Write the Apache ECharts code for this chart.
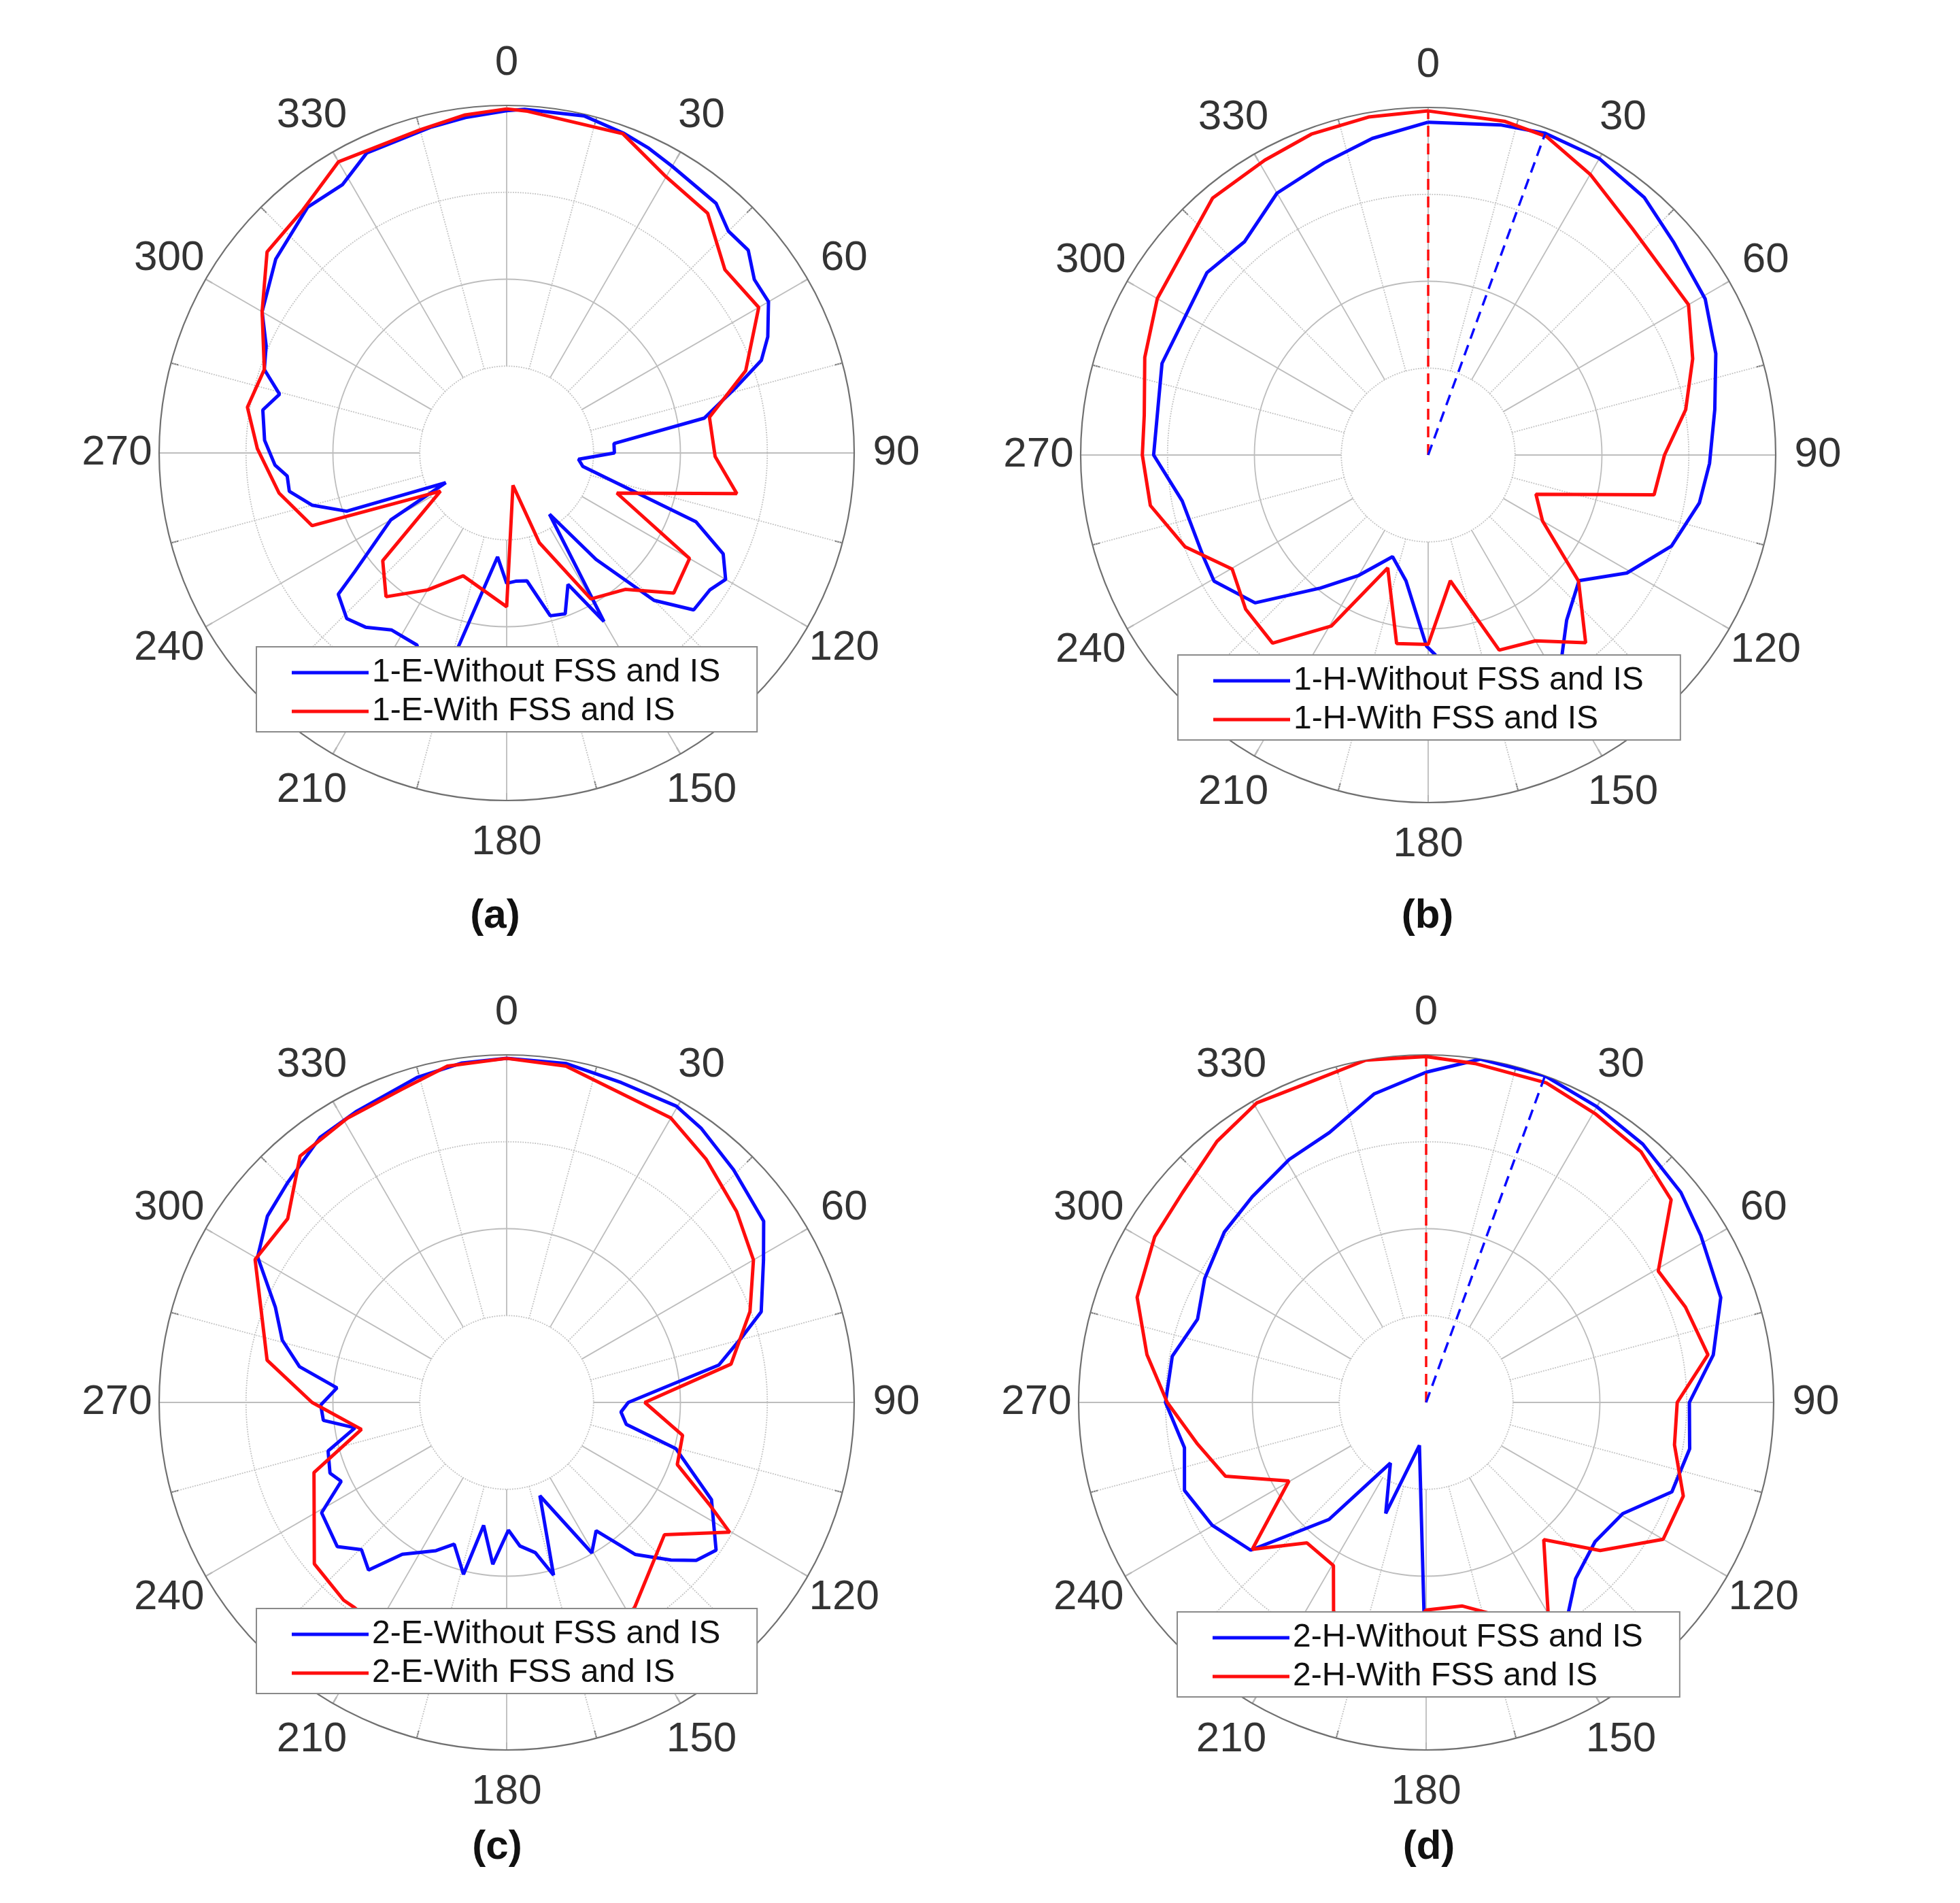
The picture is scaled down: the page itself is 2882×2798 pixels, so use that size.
<!DOCTYPE html>
<html>
<head>
<meta charset="utf-8">
<script src="https://cdn.jsdelivr.net/npm/echarts@6/dist/echarts.min.js"></script>
<style>
  html, body { margin: 0; padding: 0; background: #fff; }
  #main { width: 2882px; height: 2798px; }
</style>
</head>
<body>
<div id="main"></div>
<script>
// radiation patterns: angle in degrees, gain in dB (0 dB = outer circle, -40 dB = centre)

// (a) 1-E
var ang1EWithout = [0,3,13,20,25,30,40,45,50,55,60,66,70,74,80,85,90,95,100,110,115,120,124,130,135,140,145,150,155,160,165,171,176,180,185,194,199,205,213,219,224,230,232,240,244,250,255,260,264,267,273,280,284.5,289,294,300,310,321,328.5,335,347,353,360];
var db1EWithout = [-0.6,-0.4,-0.2,-0.8,-1.3,-1.9,-2.5,-3.9,-3.7,-5.2,-5.2,-7.1,-8.8,-12.5,-16.9,-27.6,-27.6,-31.7,-31.1,-16.8,-12.5,-10.9,-11.8,-11.9,-16,-24,-31.4,-17.6,-23.3,-20.3,-20.6,-25.1,-25.2,-25,-28,-17,-10,-15.6,-15.7,-14.2,-13.5,-14.7,-17.8,-24.6,-32.2,-20.4,-16.8,-14.6,-14.6,-13.3,-12.1,-11.5,-13,-10.5,-9.7,-7.5,-5.3,-3.6,-3.8,-1.9,-1.5,-1.1,-0.6];
var ang1EWith = [0,3.5,20,30,40,50,60,71,80,91,100,110,120,130,139,150,160,169,180,199.5,210,220,229,240,249.5,260,271,280,289,300,310,320,330,345,353,360];
var db1EWith = [-0.4,-0.6,-0.9,-3.3,-4,-7.2,-6.5,-10.9,-16.3,-16,-13.1,-26.5,-15.7,-14.9,-19.2,-20.6,-29,-36.2,-22.3,-25,-21.8,-18.4,-21.1,-31.2,-16.1,-13.4,-11.3,-9.7,-10.5,-7.5,-4,-3.5,-1.3,-1.5,-0.8,-0.4];

// (b) 1-H
var ang1HWithout = [0,12.5,20,30,40,49,60.6,70.6,81,91.7,100,110.5,120.7,129.8,140,146.4,155,168,178,180.5,190,199.3,210,219,229.5,239.5,245.7,259.4,270,289,309.5,319.3,330,340.4,350,360];
var db1HWithout = [-1.7,-1.1,-0.6,-0.6,-1.3,-2.6,-3.4,-4.9,-6.6,-7.6,-8.3,-10.1,-13.4,-17.4,-15.2,-12.2,-8,-8,-17,-18,-25.3,-27.6,-24,-20.3,-13.8,-11.4,-11.6,-11.2,-8.4,-7.6,-7,-7.6,-5.2,-4.3,-3,-1.7];
var ang1HWith = [0,13,20.4,30,42,60,70,80,90,100,110,120,130,140,150,160,170,180,189.5,199.7,209.5,219.6,229.8,239.8,249.3,259.7,270,278,289,300,320,331,340,350,360];
var db1HWith = [-0.4,-0.6,-0.9,-2.7,-4.9,-5.4,-7.6,-9.9,-12.8,-13.6,-26.8,-24.8,-17.4,-11.8,-15.3,-16.1,-25.3,-18.2,-18,-26.2,-17.4,-11.9,-12.5,-13.9,-10.1,-7.5,-7.1,-7,-5.5,-4,-1.4,-1.2,-0.7,-0.5,-0.4];

// (c) 2-E
var ang2EWithout = [0,10,19.7,29.8,35.3,44.3,54.8,61,70.4,74.2,80,90,94.8,100.4,105.3,115.4,125.2,129.8,133.8,139.8,145.1,150.5,160.4,164.8,169.2,174.7,179.2,184.9,190.6,194.1,200.3,205.5,214.5,219.5,224.6,229.6,239.2,244.5,248.2,254.8,260.5,264.4,269.2,274.9,279.8,285.5,292.4,300.3,307.9,315,324.8,332.8,344.6,352.5,360];
var db2EWithout = [-0.4,-0.4,-0.9,-0.7,-1.3,-2.6,-3.8,-6.2,-8.9,-11.7,-15.2,-26,-26.8,-26,-19.8,-13.9,-10.5,-11.6,-13.8,-17.1,-22,-20.1,-28.6,-19.4,-22.4,-23.4,-25.3,-21.3,-25.6,-19.6,-22.6,-21.1,-18.8,-15,-16.2,-14.4,-15.2,-18.9,-18.1,-18.7,-22.3,-18.8,-18.6,-20.4,-15.8,-13.2,-11.2,-6.8,-5.1,-4.3,-2.7,-2.3,-1.2,-0.6,-0.4];
var ang2EWith = [0,10,30,39.4,50.3,60,69.5,80.3,90,100.6,110,116.7,120.2,130,148,165,195,216.5,219.5,230,250,259.5,270,280,299.6,310,320,330.7,341.5,350,360];
var db2EWith = [-0.4,-0.7,-2.2,-3.8,-5.6,-7.2,-10.1,-13.8,-24.1,-19.4,-19.1,-13.9,-10.3,-16.3,-12.2,-8,-8,-10.6,-10.5,-11.1,-16.4,-23,-17.6,-12,-6.7,-7.1,-3,-2.5,-2,-0.7,-0.4];

// (d) 2-H
var ang2HWithout = [0,9,20,30,40,50.5,58.7,70.4,80.6,90,100,110,119.5,129.5,139.7,145.9,160,175,180.6,188.9,200,210.5,219.7,229.9,240.2,250,259.4,270,280.3,290,299.2,310.2,319.8,330.6,340.3,350.4,360];
var db2HWithout = [-2,0,0,-0.7,-1.2,-2,-3,-4,-6.5,-9.7,-9.2,-9.9,-14,-14.8,-13.4,-10.8,-8,-10,-16,-35,-26.4,-31.9,-22.5,-13.6,-11.6,-10.4,-11.7,-10,-10.3,-12,-10.8,-9.6,-9,-7.9,-7,-4,-2];
var ang2HWith = [0,8.4,20.6,30.5,40.6,50.4,60.5,69.8,80.4,90,99.7,110,120,130.4,139.4,149.7,156,163.8,169.9,180,190,203.9,209.6,220.3,229.8,240.2,249.8,259.9,270,279.7,290,301.4,310.7,321.3,330.5,337.7,350,360];
var db2HWith = [-0.2,-0.6,-0.7,-1.5,-2,-3.4,-9.3,-8.2,-7.1,-11.1,-11,-8.5,-8.5,-13.7,-19.2,-12.2,-8,-14.8,-16.2,-16.1,-10,-13.7,-18.4,-18.8,-13.8,-21.8,-15.4,-13.2,-10.2,-7.4,-4.6,-3.4,-3,-1.5,-0.4,-0.8,0,-0.2];

// main-beam markers (with, without) for the H-plane plots
var peak1HAngles = [0, 20];
var peak1HDb = [-0.4, -0.6];
var peak2HAngles = [0, 20];
var peak2HDb = [-0.2, 0];

var angleTicks = [0, 30, 60, 90, 120, 150, 180, 210, 240, 270, 300, 330];

var R = 511;          // outer circle radius
var LABEL_R = 573;    // radius where angle labels are centred
var FONT = 'Liberation Sans, Arial, sans-serif';
var BLUE = '#0a0aff', RED = '#ff0d0d';

var panels = [
  {cx: 745, cy: 666, tag: '(a)', tx: 728, ty: 1347, lx: 377, ly: 951,
   names: ['1-E-Without FSS and IS', '1-E-With FSS and IS'],
   wo: [ang1EWithout, db1EWithout], w: [ang1EWith, db1EWith]},
  {cx: 2100, cy: 669, tag: '(b)', tx: 2099, ty: 1347, lx: 1732, ly: 963,
   names: ['1-H-Without FSS and IS', '1-H-With FSS and IS'],
   wo: [ang1HWithout, db1HWithout], w: [ang1HWith, db1HWith],
   peak: [peak1HAngles, peak1HDb]},
  {cx: 745, cy: 2062, tag: '(c)', tx: 731, ty: 2716, lx: 377, ly: 2365,
   names: ['2-E-Without FSS and IS', '2-E-With FSS and IS'],
   wo: [ang2EWithout, db2EWithout], w: [ang2EWith, db2EWith]},
  {cx: 2097, cy: 2062, tag: '(d)', tx: 2101, ty: 2716, lx: 1731, ly: 2370,
   names: ['2-H-Without FSS and IS', '2-H-With FSS and IS'],
   wo: [ang2HWithout, db2HWithout], w: [ang2HWith, db2HWith],
   peak: [peak2HAngles, peak2HDb]}
];

var option = {
  animation: false,
  backgroundColor: '#fff',
  polar: [], angleAxis: [], radiusAxis: [],
  series: [], legend: [], graphic: []
};

function toPolar(angles, db) {
  return angles.map(function (a, i) { return [db[i], a]; });
}

var hidden = {show: false};
var clear = 'rgba(0,0,0,0)';
var SOLID = '#bdbdbd', DOT = '#c2c2c2', EDGE = '#707070';

panels.forEach(function (p, k) {
  var center = [p.cx, p.cy];
  var gi = 4 * k, di = 4 * k + 1, vi = 4 * k + 2, li = 4 * k + 3;

  // solid grid: 30 deg spokes, -20 dB ring, outer ticks
  option.polar.push({center: center, radius: [R / 4, R]});
  option.angleAxis.push({
    polarIndex: gi, type: 'value', min: 0, max: 360, interval: 30,
    startAngle: 90, clockwise: true, z: 1,
    axisLine: hidden, axisLabel: hidden,
    axisTick: {show: true, inside: true, length: 11, lineStyle: {color: EDGE, width: 2}},
    splitLine: {show: true, lineStyle: {color: SOLID, width: 1.8}}
  });
  option.radiusAxis.push({
    polarIndex: gi, type: 'value', min: -30, max: 0, interval: 10, z: 1,
    axisLine: hidden, axisTick: hidden, axisLabel: hidden,
    splitLine: {show: true, lineStyle: {color: [clear, SOLID, clear, clear], width: 1.8}}
  });

  // dotted grid: 15 deg offset spokes, -30 / -10 dB rings
  option.polar.push({center: center, radius: [R / 4, R]});
  option.angleAxis.push({
    polarIndex: di, type: 'value', min: 0, max: 360, interval: 30,
    startAngle: 75, clockwise: true, z: 1,
    axisLine: hidden, axisLabel: hidden,
    axisTick: {show: true, inside: true, length: 11, lineStyle: {color: EDGE, width: 2}},
    splitLine: {show: true, lineStyle: {color: DOT, width: 1.8, type: 'dotted'}}
  });
  option.radiusAxis.push({
    polarIndex: di, type: 'value', min: -30, max: 0, interval: 10, z: 1,
    axisLine: hidden, axisTick: hidden, axisLabel: hidden,
    splitLine: {show: true, lineStyle: {color: [DOT, clear, DOT, clear], width: 1.8, type: 'dotted'}}
  });

  // data polar, centre = -40 dB; its axis line is the outer circle
  option.polar.push({center: center, radius: [0, R]});
  option.angleAxis.push({
    polarIndex: vi, type: 'value', min: 0, max: 360, startAngle: 90, clockwise: true, z: 1,
    axisLine: {show: true, lineStyle: {color: EDGE, width: 2.2}},
    axisTick: hidden, axisLabel: hidden, splitLine: hidden
  });
  option.radiusAxis.push({
    polarIndex: vi, type: 'value', min: -40, max: 0,
    axisLine: hidden, axisTick: hidden, axisLabel: hidden, splitLine: hidden
  });

  // label polar: angle tick labels centred on a circle just outside the plot
  option.polar.push({center: center, radius: [0, LABEL_R]});
  option.angleAxis.push({
    polarIndex: li, type: 'value', min: 0, max: 360, startAngle: 90, clockwise: true,
    axisLine: hidden, axisTick: hidden, axisLabel: hidden, splitLine: hidden
  });
  option.radiusAxis.push({
    polarIndex: li, type: 'value', min: 0, max: 1,
    axisLine: hidden, axisTick: hidden, axisLabel: hidden, splitLine: hidden
  });
  option.series.push({
    name: 'ticks-' + k, type: 'scatter', coordinateSystem: 'polar', polarIndex: li,
    data: angleTicks.map(function (a) { return [1, a]; }),
    symbolSize: 1, itemStyle: {color: clear}, silent: true, z: 5,
    label: {
      show: true, position: 'inside', fontSize: 62, color: '#000', fontFamily: FONT,
      textBorderWidth: 0,
      formatter: function (d) { return String(d.value[1]); }
    }
  });

  option.series.push({
    name: p.names[0], type: 'line', coordinateSystem: 'polar', polarIndex: vi,
    data: toPolar(p.wo[0], p.wo[1]), symbol: 'none', z: 3,
    lineStyle: {color: BLUE, width: 5}, itemStyle: {color: BLUE}
  });
  option.series.push({
    name: p.names[1], type: 'line', coordinateSystem: 'polar', polarIndex: vi,
    data: toPolar(p.w[0], p.w[1]), symbol: 'none', z: 3,
    lineStyle: {color: RED, width: 5}, itemStyle: {color: RED}
  });

  if (p.peak) {
    var pa = p.peak[0], pd = p.peak[1];
    option.series.push({
      name: 'peak-w-' + k, type: 'line', coordinateSystem: 'polar', polarIndex: vi,
      data: [[-40, pa[0]], [pd[0], pa[0]]], symbol: 'none', z: 3,
      lineStyle: {color: RED, width: 3.5, type: [16, 10]}
    });
    option.series.push({
      name: 'peak-wo-' + k, type: 'line', coordinateSystem: 'polar', polarIndex: vi,
      data: [[-40, pa[1]], [pd[1], pa[1]]], symbol: 'none', z: 3,
      lineStyle: {color: BLUE, width: 3.5, type: [16, 10]}
    });
  }

  option.legend.push({
    data: p.names, orient: 'vertical', left: p.lx, top: p.ly,
    backgroundColor: '#fff', borderColor: '#8a8a8a', borderWidth: 2, borderRadius: 0,
    padding: [13, 54, 5, 52], itemWidth: 113, itemHeight: 5, itemGap: 7,
    icon: 'rect', selectedMode: false,
    textStyle: {fontSize: 48, color: '#111', fontFamily: FONT, lineHeight: 50}
  });

  option.graphic.push({
    type: 'text', x: p.tx, y: p.ty, z: 10,
    style: {text: p.tag, fontSize: 60, fontWeight: 'bold', fill: '#111',
            fontFamily: FONT, align: 'center', verticalAlign: 'middle'}
  });
});

var chart = echarts.init(document.getElementById('main'), null, {renderer: 'canvas'});
chart.setOption(option);
</script>
</body>
</html>
